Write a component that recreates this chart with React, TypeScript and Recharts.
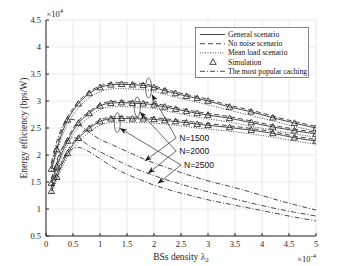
import {
    ComposedChart,
    Line,
    Scatter,
    XAxis,
    YAxis,
    CartesianGrid,
    Legend,
    ReferenceLine,
    ReferenceDot,
} from "recharts"

// BS density (x 1e-4)
const densities = [0.1, 0.2, 0.3, 0.4, 0.5, 0.6, 0.8, 1.0, 1.2, 1.4, 1.6, 1.8, 2.0, 2.2, 2.4, 2.6, 2.8, 3.0, 3.4, 3.8, 4.2, 4.6, 5.0]

// energy efficiency (x 1e4 bps/W)
const general1500 = [1.74, 2.10, 2.42, 2.65, 2.82, 2.95, 3.14, 3.25, 3.30, 3.31, 3.30, 3.29, 3.25, 3.19, 3.14, 3.09, 3.05, 3.00, 2.89, 2.80, 2.69, 2.59, 2.50]
const general2000 = [1.48, 1.78, 2.05, 2.26, 2.45, 2.59, 2.77, 2.91, 2.96, 2.97, 2.96, 2.95, 2.93, 2.89, 2.85, 2.81, 2.77, 2.74, 2.68, 2.60, 2.52, 2.45, 2.39]
const general2500 = [1.33, 1.59, 1.83, 2.03, 2.19, 2.31, 2.49, 2.62, 2.67, 2.68, 2.67, 2.67, 2.66, 2.64, 2.62, 2.60, 2.57, 2.55, 2.51, 2.46, 2.40, 2.32, 2.26]

const noNoise1500 = [1.82, 2.17, 2.48, 2.70, 2.86, 2.99, 3.17, 3.28, 3.33, 3.34, 3.33, 3.32, 3.28, 3.22, 3.17, 3.12, 3.08, 3.03, 2.92, 2.83, 2.72, 2.62, 2.53]
const noNoise2000 = [1.55, 1.85, 2.11, 2.31, 2.49, 2.63, 2.80, 2.94, 2.99, 3.00, 2.99, 2.98, 2.96, 2.92, 2.88, 2.84, 2.80, 2.77, 2.71, 2.63, 2.55, 2.48, 2.42]
const noNoise2500 = [1.40, 1.65, 1.88, 2.08, 2.23, 2.35, 2.52, 2.65, 2.70, 2.71, 2.70, 2.70, 2.69, 2.67, 2.65, 2.63, 2.60, 2.58, 2.54, 2.49, 2.43, 2.35, 2.29]

const meanLoad1500 = [1.70, 2.04, 2.35, 2.57, 2.74, 2.87, 3.06, 3.17, 3.22, 3.23, 3.22, 3.21, 3.18, 3.12, 3.07, 3.02, 2.98, 2.93, 2.83, 2.73, 2.63, 2.53, 2.44]
const meanLoad2000 = [1.44, 1.73, 1.99, 2.19, 2.38, 2.52, 2.70, 2.84, 2.89, 2.90, 2.89, 2.88, 2.86, 2.82, 2.78, 2.74, 2.70, 2.67, 2.61, 2.53, 2.46, 2.39, 2.33]
const meanLoad2500 = [1.29, 1.54, 1.77, 1.97, 2.12, 2.24, 2.42, 2.55, 2.60, 2.61, 2.60, 2.60, 2.59, 2.57, 2.55, 2.53, 2.50, 2.48, 2.44, 2.39, 2.33, 2.26, 2.20]

const popular1500 = [1.85, 2.25, 2.52, 2.66, 2.66, 2.58, 2.42, 2.29, 2.20, 2.11, 2.02, 1.93, 1.85, 1.78, 1.71, 1.64, 1.58, 1.52, 1.42, 1.31, 1.19, 1.08, 0.98]
const popular2000 = [1.55, 1.90, 2.13, 2.27, 2.32, 2.30, 2.17, 2.06, 1.96, 1.86, 1.77, 1.69, 1.62, 1.55, 1.49, 1.43, 1.37, 1.32, 1.21, 1.11, 1.02, 0.94, 0.87]
const popular2500 = [1.40, 1.68, 1.90, 2.04, 2.12, 2.14, 2.06, 1.93, 1.80, 1.69, 1.60, 1.52, 1.44, 1.38, 1.32, 1.27, 1.22, 1.17, 1.09, 1.01, 0.93, 0.85, 0.78]

// simulation points
const simDensities = [0.1, 0.2, 0.4, 0.6, 0.8, 1.0, 1.2, 1.4, 1.6, 1.8, 2.0, 2.2, 2.4, 2.6, 2.8, 3.0, 3.4, 3.8, 4.2, 4.6, 5.0]
const sim1500 = [1.74, 2.10, 2.65, 2.95, 3.14, 3.25, 3.30, 3.31, 3.30, 3.29, 3.25, 3.19, 3.14, 3.09, 3.05, 3.00, 2.89, 2.80, 2.69, 2.59, 2.50]
const sim2000 = [1.48, 1.78, 2.26, 2.59, 2.77, 2.91, 2.96, 2.97, 2.96, 2.95, 2.93, 2.89, 2.85, 2.81, 2.77, 2.74, 2.68, 2.60, 2.52, 2.45, 2.39]
const sim2500 = [1.33, 1.59, 2.03, 2.31, 2.49, 2.62, 2.67, 2.68, 2.67, 2.67, 2.66, 2.64, 2.62, 2.60, 2.57, 2.55, 2.51, 2.46, 2.40, 2.32, 2.26]

const xTicks = [0, 0.5, 1, 1.5, 2, 2.5, 3, 3.5, 4, 4.5, 5]
const yTicks = [0.5, 1, 1.5, 2, 2.5, 3, 3.5, 4, 4.5]

const legendLabels = ["General scenario", "No noise scenario", "Mean load scenario", "Simulation", "The most popular caching"]

// annotation anchors, data coords
const groupLabels = ["N=1500", "N=2000", "N=2500"]
const labelAnchors = [{ x: 2.41, y: 2.315 }, { x: 2.41, y: 2.074 }, { x: 2.5, y: 1.815 }]
const ellipseCenters = [{ x: 1.9, y: 3.24 }, { x: 1.69, y: 2.89 }, { x: 1.32, y: 2.6 }]
const upperTargets = [{ x: 1.96, y: 3.12 }, { x: 1.74, y: 2.796 }, { x: 1.37, y: 2.495 }]
const lowerTargets = [{ x: 1.83, y: 1.89 }, { x: 1.89, y: 1.66 }, { x: 2.07, y: 1.47 }]

const rows = densities.map((x, i) => ({
    x,
    g1: general1500[i], g2: general2000[i], g3: general2500[i],
    n1: noNoise1500[i], n2: noNoise2000[i], n3: noNoise2500[i],
    m1: meanLoad1500[i], m2: meanLoad2000[i], m3: meanLoad2500[i],
    p1: popular1500[i], p2: popular2000[i], p3: popular2500[i],
}))

const simSets = [sim1500, sim2000, sim2500].map((vals) =>
    simDensities.map((x, i) => ({ x, y: vals[i] }))
)

const INK = "#1a1a1a"
const SERIF = "'Liberation Serif', 'Times New Roman', serif"
const SANS = "'Liberation Sans', Arial, sans-serif"

const styles = {
    general: { dash: undefined as string | undefined },
    noNoise: { dash: "5 3" },
    meanLoad: { dash: "1 1.5" },
    popular: { dash: "5 2 1 2" },
}
const legendDashes = [styles.general.dash, styles.noNoise.dash, styles.meanLoad.dash, null, styles.popular.dash]

const Triangle = (props: any) => {
    const { cx, cy } = props
    if (cx == null || cy == null) return null
    return (
        <path
            d={`M${cx},${cy - 3.3} L${cx + 3.2},${cy + 2.3} L${cx - 3.2},${cy + 2.3} Z`}
            fill="none"
            stroke={INK}
            strokeWidth={0.8}
        />
    )
}

const ArrowLine = (props: any) => (
    <line
        x1={props.x1}
        y1={props.y1}
        x2={props.x2}
        y2={props.y2}
        stroke="#2a2a2a"
        strokeWidth={0.7}
        markerEnd="url(#arrowHead)"
    />
)

const LegendBox = () => (
    <svg width={114} height={51} style={{ display: "block" }}>
        <rect x={0.5} y={0.5} width={113} height={50} fill="#fff" stroke="#333" strokeWidth={0.6} />
        {legendLabels.map((label, i) => {
            const y = 7.5 + i * 9.2
            const dash = legendDashes[i]
            return (
                <g key={label}>
                    {dash === null ? (
                        <Triangle cx={18} cy={y} />
                    ) : (
                        <line x1={5} x2={30} y1={y} y2={y} stroke={INK} strokeWidth={0.8} strokeDasharray={dash} />
                    )}
                    <text x={33} y={y} dy="0.33em" fontSize={7.6} fontFamily={SERIF} fill="#111">
                        {label}
                    </text>
                </g>
            )
        })}
    </svg>
)

const tickStyle = { fontSize: 8.5, fill: "#262626", fontFamily: SERIF }

export default function App() {
    const lineProps = {
        type: "monotone" as const,
        dot: false,
        isAnimationActive: false,
        stroke: INK,
        strokeWidth: 0.8,
        activeDot: false,
    }
    return (
        <div style={{ position: "absolute", left: 0, top: 0, width: 349, height: 266, background: "#fff" }}>
            <ComposedChart width={349} height={266} data={rows} margin={{ top: 20, right: 33, bottom: 0, left: 6 }}>
                <defs>
                    <marker
                        id="arrowHead"
                        viewBox="0 0 10 10"
                        refX="10"
                        refY="5"
                        markerWidth="7"
                        markerHeight="7"
                        orient="auto"
                        markerUnits="userSpaceOnUse"
                    >
                        <path d="M0,1 L10,5 L0,9 L3,5 Z" fill="#1a1a1a" />
                    </marker>
                </defs>
                <CartesianGrid stroke="#e3e3e3" strokeWidth={0.7} ticks={undefined} />
                <XAxis
                    dataKey="x"
                    type="number"
                    domain={[0, 5]}
                    ticks={xTicks}
                    height={30}
                    tick={tickStyle}
                    tickSize={-3}
                    tickMargin={8}
                    axisLine={{ stroke: "#262626" }}
                    tickLine={{ stroke: "#262626" }}
                    allowDataOverflow
                />
                <XAxis
                    xAxisId="top"
                    orientation="top"
                    dataKey="x"
                    type="number"
                    domain={[0, 5]}
                    ticks={xTicks}
                    height={0}
                    tick={false}
                    tickSize={-3}
                    axisLine={{ stroke: "#262626" }}
                    tickLine={{ stroke: "#262626" }}
                />
                <YAxis
                    type="number"
                    domain={[0.5, 4.5]}
                    ticks={yTicks}
                    width={40}
                    tick={tickStyle}
                    tickSize={-3}
                    tickMargin={8}
                    axisLine={{ stroke: "#262626" }}
                    tickLine={{ stroke: "#262626" }}
                    allowDataOverflow
                />
                <YAxis
                    yAxisId="right"
                    orientation="right"
                    type="number"
                    domain={[0.5, 4.5]}
                    ticks={yTicks}
                    width={0}
                    tick={false}
                    tickSize={-3}
                    axisLine={{ stroke: "#262626" }}
                    tickLine={{ stroke: "#262626" }}
                />

                <Line {...lineProps} dataKey="p1" strokeDasharray={styles.popular.dash} />
                <Line {...lineProps} dataKey="p2" strokeDasharray={styles.popular.dash} />
                <Line {...lineProps} dataKey="p3" strokeDasharray={styles.popular.dash} />
                <Line {...lineProps} dataKey="m1" strokeDasharray={styles.meanLoad.dash} />
                <Line {...lineProps} dataKey="m2" strokeDasharray={styles.meanLoad.dash} />
                <Line {...lineProps} dataKey="m3" strokeDasharray={styles.meanLoad.dash} />
                <Line {...lineProps} dataKey="n1" strokeDasharray={styles.noNoise.dash} />
                <Line {...lineProps} dataKey="n2" strokeDasharray={styles.noNoise.dash} />
                <Line {...lineProps} dataKey="n3" strokeDasharray={styles.noNoise.dash} />
                <Line {...lineProps} dataKey="g1" />
                <Line {...lineProps} dataKey="g2" />
                <Line {...lineProps} dataKey="g3" />

                {simSets.map((set, i) => (
                    <Scatter key={i} data={set} dataKey="y" shape={Triangle} isAnimationActive={false} />
                ))}

                {ellipseCenters.map((c, i) => (
                    <ReferenceDot
                        key={"e" + i}
                        x={c.x}
                        y={c.y}
                        ifOverflow="visible"
                        shape={(p: any) => (
                            <ellipse cx={p.cx} cy={p.cy} rx={3} ry={10} fill="none" stroke="#333" strokeWidth={0.7} />
                        )}
                    />
                ))}
                {labelAnchors.map((a, i) => (
                    <ReferenceLine
                        key={"u" + i}
                        segment={[a, upperTargets[i]]}
                        ifOverflow="visible"
                        shape={ArrowLine}
                    />
                ))}
                {labelAnchors.map((a, i) => (
                    <ReferenceLine
                        key={"d" + i}
                        segment={[a, lowerTargets[i]]}
                        ifOverflow="visible"
                        shape={ArrowLine}
                    />
                ))}
                {labelAnchors.map((a, i) => (
                    <ReferenceDot
                        key={"t" + i}
                        x={a.x}
                        y={a.y}
                        ifOverflow="visible"
                        shape={(p: any) => (
                            <text x={p.cx + 3} y={p.cy} dy="0.35em" fontSize={8.5} fontFamily={SANS} fill="#111">
                                {groupLabels[i]}
                            </text>
                        )}
                    />
                ))}

                <Legend
                    layout="vertical"
                    align="center"
                    verticalAlign="middle"
                    content={() => <LegendBox />}
                    wrapperStyle={{ left: 195, top: 27, width: 114, height: 51 }}
                />

                <text x={46.5} y={17} fontSize={8.5} fontFamily={SERIF} fill="#262626">
                    ×10<tspan dy={-4} fontSize={6.5}>4</tspan>
                </text>
                <text x={316} y={262} textAnchor="end" fontSize={8.5} fontFamily={SERIF} fill="#262626">
                    ×10<tspan dy={-4} fontSize={6.5}>-4</tspan>
                </text>
                <text x={181} y={259.5} textAnchor="middle" fontSize={9.5} fontFamily={SERIF} fill="#262626">
                    BSs density λ<tspan dy={2.5} fontSize={7}>2</tspan>
                </text>
                <text
                    transform="translate(26.5,128) rotate(-90)"
                    textAnchor="middle"
                    fontSize={9.5}
                    fontFamily={SERIF}
                    fill="#262626"
                >
                    Energy efficiency (bps/W)
                </text>
            </ComposedChart>
        </div>
    )
}
